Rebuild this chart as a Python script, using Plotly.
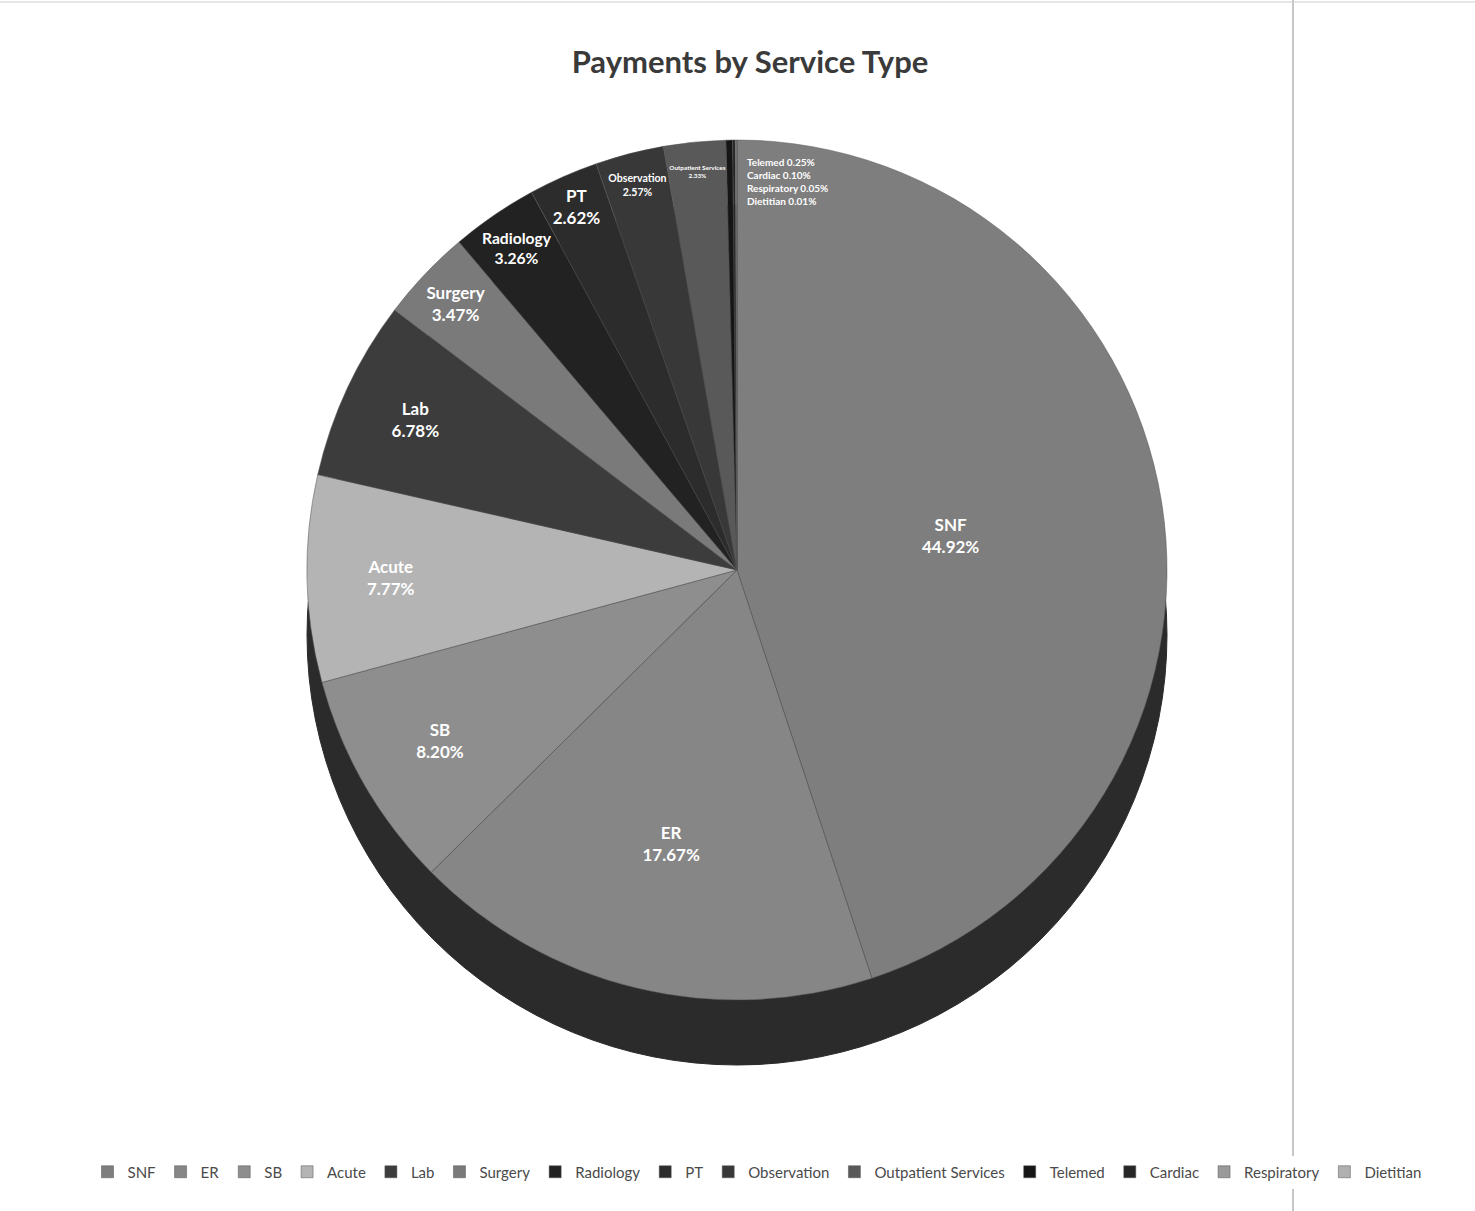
import plotly.graph_objects as go

labels = ["SNF", "ER", "SB", "Acute", "Lab", "Surgery", "Radiology", "PT",
          "Observation", "Outpatient Services", "Telemed", "Cardiac",
          "Respiratory", "Dietitian"]
values = [44.92, 17.67, 8.20, 7.77, 6.78, 3.47, 3.26, 2.62,
          2.57, 2.33, 0.25, 0.10, 0.05, 0.01]
colors = ["#7e7e7e", "#868686", "#8e8e8e", "#b4b4b4", "#3c3c3c", "#7a7a7a",
          "#222222", "#2c2c2c", "#383838", "#595959", "#151515", "#262626",
          "#9a9a9a", "#b0b0b0"]

W, H = 1475, 1211
cx, cy, r = 737, 570, 430
depth = 65
tiny = 1.0  # slices below this share get their label as an annotation cluster

total = sum(values)
positions = ["inside" if v >= tiny else "none" for v in values]

fig = go.Figure()
fig.add_trace(go.Pie(
    labels=labels, values=values, sort=False, direction="clockwise", rotation=0,
    marker=dict(colors=colors, line=dict(color="#555555", width=0.5)),
    texttemplate="%{label}<br>%{percent:.2%}",
    textposition=positions, insidetextorientation="horizontal",
    insidetextfont=dict(family="Lato", size=17, color="white", weight="bold"),
    domain=dict(x=[(cx - r) / W, (cx + r) / W], y=[1 - (cy + r) / H, 1 - (cy - r) / H]),
    showlegend=True,
))

annotations = []
k = 0
for lab, v in zip(labels, values):
    if v < tiny:
        annotations.append(dict(
            xref="paper", yref="paper", x=(cx + 8) / W, y=1 - (cy - r + 22 + 13 * k) / H,
            xanchor="left", yanchor="middle", showarrow=False,
            text=f"{lab} {v / total * 100:.2f}%",
            font=dict(family="Lato", size=10, color="white", weight="bold")))
        k += 1

shapes = [
    # 3D side of pie
    dict(type="circle", xref="paper", yref="paper", layer="below",
         x0=(cx - r) / W, x1=(cx + r) / W,
         y0=1 - (cy + r + depth) / H, y1=1 - (cy - r + depth) / H,
         fillcolor="#2b2b2b", line=dict(color="#2b2b2b", width=1)),
    # spreadsheet column border
    dict(type="line", xref="paper", yref="paper", x0=1293 / W, x1=1293 / W, y0=0, y1=1,
         line=dict(color="#b5b5b5", width=1.5)),
    dict(type="line", xref="paper", yref="paper", x0=0, x1=1, y0=1 - 2 / H, y1=1 - 2 / H,
         line=dict(color="#cccccc", width=1)),
]

fig.update_layout(
    width=W, height=H,
    margin=dict(l=0, r=0, t=0, b=0),
    paper_bgcolor="white", plot_bgcolor="white",
    title=dict(text="<b>Payments by Service Type</b>", x=750 / W, xanchor="center",
               y=1 - 62 / H, yanchor="middle",
               font=dict(family="Lato", size=31, color="#3a3a3a")),
    legend=dict(orientation="h", x=757 / W, xanchor="center", y=1 - 1172 / H, yanchor="middle",
                font=dict(family="Lato", size=15, color="#4a4a4a"), traceorder="normal",
                itemwidth=30),
    shapes=shapes,
    annotations=annotations,
)

fig.write_html("out.html")
